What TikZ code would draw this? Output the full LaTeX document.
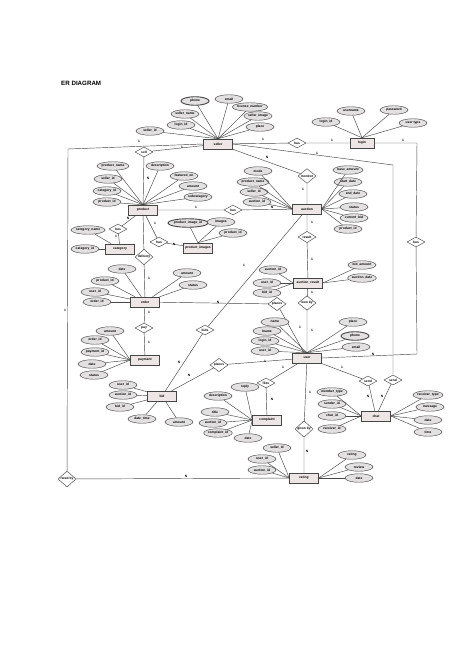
\documentclass[tikz,border=0pt]{standalone}
\usepackage{fontspec}
\setmainfont{Liberation Sans}
\usetikzlibrary{shapes.geometric}
\definecolor{entfill}{RGB}{238,230,230}
\definecolor{attrfill}{RGB}{226,224,224}
\definecolor{ln}{RGB}{70,70,70}
\newcommand\fs{\fontsize{3.3}{3.6}\selectfont\bfseries}
\begin{document}
\begin{tikzpicture}[x=1pt,y=-1pt,
  ent/.style={draw=ln, line width=0.5pt, fill=entfill, minimum width=29pt, minimum height=10pt, inner sep=0pt, font=\fs},
  attr/.style={ellipse, draw=ln, line width=0.45pt, fill=attrfill, minimum width=28pt, minimum height=8.5pt, inner sep=0pt, font=\fs},
  mattr/.style={attr, line width=0.9pt},
  rel/.style={diamond, draw=ln, line width=0.45pt, fill=white, minimum width=18pt, minimum height=10pt, inner sep=0pt, font=\fs},
  card/.style={inner sep=0pt, font=\fs},
  conn/.style={draw=ln, line width=0.45pt}]
\useasboundingbox (0,0) rectangle (474,669);
\fill[white] (0,0) rectangle (474,669);
\node[anchor=west, inner sep=0pt, font=\fontsize{6.2}{7}\selectfont\bfseries] (title) at (61,83) {ER DIAGRAM};

% entities
\node[ent] (seller) at (218,144) {seller};
\node[ent, minimum width=24pt] (login) at (362,143) {login};
\node[ent] (product) at (143,210) {product};
\node[ent] (auction) at (307,209) {auction};
\node[ent] (category) at (120,249) {category};
\node[ent] (pimg) at (198,248) {product\_images};
\node[ent] (order) at (145,302) {order};
\node[ent] (ares) at (308,283) {auction\_result};
\node[ent] (payment) at (145,360) {payment};
\node[ent] (user) at (307,358) {user};
\node[ent] (bid) at (162,396) {bid};
\node[ent] (compl) at (267,420) {complaint};
\node[ent] (chat) at (376,416) {chat};
\node[ent] (rating) at (304,478) {rating};

% relationships
\node[rel] (sell) at (144,152) {sell};
\node[rel] (hasSL) at (297,143) {has};
\node[rel] (hasLU) at (416,242) {has};
\node[rel] (monitor) at (307,176) {monitor};
\node[rel] (sendS) at (393,380) {send};
\node[rel] (ratedS) at (67,479) {rated by};
\node[rel] (hasPC) at (118,229) {has};
\node[rel] (hasPI) at (159,242) {has};
\node[rel] (hasPA) at (233,210) {has};
\node[rel] (delivery) at (144,257) {delivery};
\node[rel] (pay) at (144,328) {pay};
\node[rel] (placesO) at (277,304) {places};
\node[rel] (result) at (307,237) {result};
\node[rel] (wonby) at (307,303) {won by};
\node[rel] (bidson) at (205,330) {bids};
\node[rel] (placesB) at (219,365) {places};
\node[rel] (files) at (266,383) {files};
\node[rel] (ratedU) at (304,429) {given by};
\node[rel] (sendU) at (368,381) {send};

\coordinate (c1) at (417,143);
\coordinate (c2) at (417,354);
\coordinate (c3) at (393,165);
\coordinate (c4) at (68,149);

% relationship connectors
\draw[conn] (seller) -- (hasSL) -- (login);
\draw[conn] (login.east) -- (c1) -- (hasLU) -- (c2) -- (user.east);
\draw[conn] (seller.south east) -- (monitor) -- (auction);
\draw[conn] (seller.east) -- (c3) -- (sendS) -- (chat);
\draw[conn] (seller) -- (sell) -- (product);
\draw[conn] (seller.west) -- (c4) -- (ratedS) -- (rating);
\draw[conn] (product) -- (hasPC) -- (category);
\draw[conn] (product) -- (hasPI) -- (pimg);
\draw[conn] (product) -- (hasPA) -- (auction);
\draw[conn] (product) -- (delivery) -- (order);
\draw[conn] (order) -- (pay) -- (payment);
\draw[conn] (order) -- (placesO) -- (user);
\draw[conn] (auction) -- (result) -- (ares);
\draw[conn] (ares) -- (wonby) -- (user);
\draw[conn] (auction) -- (bidson) -- (bid);
\draw[conn] (user) -- (placesB) -- (bid);
\draw[conn] (user) -- (files) -- (compl);
\draw[conn] (user) -- (ratedU) -- (rating);
\draw[conn] (user) -- (sendU) -- (chat);

% cardinalities
\foreach \x/\y/\t in {263/139/1, 332/140/1, 403/140/1, 373/354/N, 267/157/N, 303/189/1, 317/153/1, 382/396/N,
  182/147/1, 148/178/N, 139/141/1, 65/310/1, 186/476/N, 128/218/N, 116/236/1, 155/223/1, 174/244/N,
  196/207/1, 272/207/N, 149/278/1, 149/312/1, 149/342/1, 218/302/N, 300/327/1, 312/222/1, 312/259/1,
  312/292/1, 312/330/1, 244/265/1, 179/362/N, 265/361/1, 189/375/N, 283/367/1, 272/399/N, 310/392/1,
  307/451/N, 342/367/1, 368/396/N}
  \node[card] at (\x,\y) {\t};

% seller attributes
\node[mattr] (s1) at (195,101) {phone};
\node[attr] (s2) at (229,99) {email};
\node[attr, minimum width=32pt] (s3) at (250,107) {license\_number};
\node[attr] (s4) at (258,116) {seller\_image};
\node[attr] (s5) at (260,127) {place};
\node[attr] (s6) at (185,114) {seller\_name};
\node[attr] (s7) at (181,125) {login\_id};
\node[attr] (s8) at (150,131) {seller\_id};
\foreach \a in {s1,s2,s3,s4,s5,s6,s7,s8} \draw[conn] (\a) -- (seller.north);

% login attributes
\node[attr] (l1) at (351,111) {username};
\node[attr] (l2) at (394,110) {password};
\node[attr] (l3) at (326,122) {login\_id};
\node[attr] (l4) at (413,123) {user type};
\foreach \a in {l1,l2,l3,l4} \draw[conn] (\a) -- (login.north);

% product attributes
\node[attr] (p1) at (113,166) {product\_name};
\node[attr] (p2) at (160,166) {description};
\node[attr] (p3) at (184,176) {featured\_on};
\node[attr] (p4) at (193,186) {amount};
\node[attr] (p5) at (198,197) {subcategory};
\node[attr] (p6) at (108,179) {seller\_id};
\node[attr] (p7) at (107,191) {category\_id};
\node[attr] (p8) at (107,202) {product\_id};
\foreach \a in {p1,p2,p3,p4,p5,p6,p7,p8} \draw[conn] (\a) -- (product.north);

% category attributes
\node[attr] (k1) at (88,230) {category\_name};
\node[attr] (k2) at (85,249) {category\_id};
\foreach \a in {k1,k2} \draw[conn] (\a) -- (category);

% product images attributes
\node[mattr] (i1) at (188,223) {product\_image\_id};
\node[attr] (i2) at (221,222) {images};
\node[attr] (i3) at (233,233) {product\_id};
\foreach \a in {i1,i2,i3} \draw[conn] (\a) -- (pimg.north);

% auction attributes
\node[attr] (a1) at (258,171) {mode};
\node[attr] (a2) at (253,182) {product\_name};
\node[attr] (a3) at (254,192) {seller\_id};
\node[attr] (a4) at (257,202) {auction\_id};
\node[attr] (a5) at (348,170) {base\_amount};
\node[attr] (a6) at (348,182) {start\_date};
\node[attr] (a7) at (353,194) {end\_date};
\node[attr] (a8) at (354,207) {status};
\node[attr] (a9) at (354,218) {current\_bid};
\node[attr] (a10) at (348,229) {product\_id};
\foreach \a in {a1,a2,a3,a4} \draw[conn] (\a) -- (auction.west);
\foreach \a in {a5,a6,a7,a8,a9,a10} \draw[conn] (\a) -- (auction.east);

% auction result attributes
\node[attr] (r1) at (273,270) {auction\_id};
\node[attr] (r2) at (267,283) {user\_id};
\node[attr] (r3) at (267,293) {bid\_id};
\node[attr] (r4) at (362,265) {bid\_amount};
\node[attr] (r5) at (362,278) {auction\_date};
\foreach \a in {r1,r2,r3} \draw[conn] (\a) -- (ares.west);
\foreach \a in {r4,r5} \draw[conn] (\a) -- (ares.east);

% order attributes
\node[attr] (o1) at (122,269) {date};
\node[attr] (o2) at (105,281) {product\_id};
\node[attr] (o3) at (95,292) {user\_id};
\node[attr] (o4) at (97,302) {order\_id};
\node[attr] (o5) at (187,273) {amount};
\node[attr] (o6) at (193,285) {status};
\foreach \a in {o1,o2,o3,o4,o5,o6} \draw[conn] (\a) -- (order);

% payment attributes
\node[attr] (y1) at (110,331) {amount};
\node[attr] (y2) at (95,340) {order\_id};
\node[attr] (y3) at (95,352) {payment\_id};
\node[attr] (y4) at (92,364) {date};
\node[attr] (y5) at (94,375) {status};
\foreach \a in {y1,y2,y3,y4,y5} \draw[conn] (\a) -- (payment.west);

% user attributes
\node[attr] (u1) at (275,322) {name};
\node[attr] (u2) at (267,331) {lname};
\node[attr] (u3) at (265,341) {login\_id};
\node[attr] (u4) at (265,351) {user\_id};
\node[attr] (u5) at (353,322) {place};
\node[mattr] (u6) at (355,336) {phone};
\node[attr] (u7) at (356,347) {email};
\foreach \a in {u1,u2,u3,u4,u5,u6,u7} \draw[conn] (\a) -- (user.north);

% bid attributes
\node[attr] (b1) at (123,385) {user\_id};
\node[attr] (b2) at (123,395) {auction\_id};
\node[attr] (b3) at (120,407) {bid\_id};
\node[attr] (b4) at (142,419) {date\_time};
\node[attr] (b5) at (179,422) {amount};
\foreach \a in {b1,b2,b3,b4,b5} \draw[conn] (\a) -- (bid);

% complaint attributes
\node[attr] (m1) at (245,387) {reply};
\node[attr] (m2) at (218,396) {description};
\node[attr] (m3) at (215,412) {title};
\node[attr] (m4) at (213,423) {auction\_id};
\node[attr] (m5) at (218,433) {complaint\_id};
\node[attr] (m6) at (248,438) {date};
\foreach \a in {m1,m2,m3,m4,m5,m6} \draw[conn] (\a) -- (compl.west);

% chat attributes
\node[attr] (h1) at (332,392) {member\_type};
\node[attr] (h2) at (332,404) {sender\_id};
\node[attr] (h3) at (332,416) {chat\_id};
\node[attr] (h4) at (332,429) {receiver\_id};
\node[attr] (h5) at (428,395) {receiver\_type};
\node[attr] (h6) at (430,407) {message};
\node[attr] (h7) at (428,420) {date};
\node[attr] (h8) at (428,432) {time};
\foreach \a in {h1,h2,h3,h4} \draw[conn] (\a) -- (chat.west);
\foreach \a in {h5,h6,h7,h8} \draw[conn] (\a) -- (chat.east);

% rating attributes
\node[attr] (g1) at (277,448) {seller\_id};
\node[attr] (g2) at (262,459) {user\_id};
\node[attr] (g3) at (262,470) {auction\_id};
\node[attr] (g4) at (352,455) {rating};
\node[attr] (g5) at (359,467) {review};
\node[attr] (g6) at (359,478) {date};
\foreach \a in {g1,g2,g3} \draw[conn] (\a) -- (rating.west);
\foreach \a in {g4,g5,g6} \draw[conn] (\a) -- (rating.east);
\end{tikzpicture}
\end{document}
